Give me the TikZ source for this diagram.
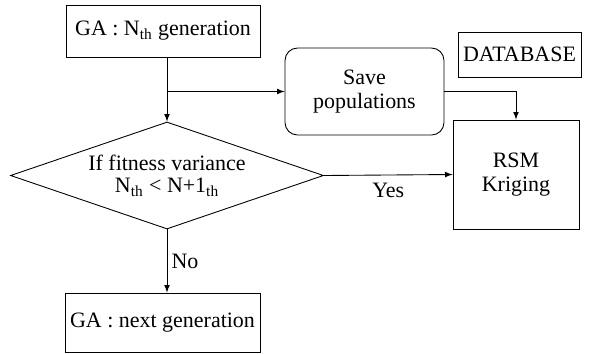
\documentclass[tikz,border=0pt]{standalone}
\usepackage{fontspec}
\setmainfont{Liberation Serif}
\usepackage{tikz}
\usetikzlibrary{shapes,arrows,positioning,fit}

\begin{document}
\begin{tikzpicture}
		\tikzstyle{Box}		= [rectangle, draw, line width=0.5pt, inner sep=0pt, align=center, font=\fontsize{12.5}{15}\selectfont]
		\tikzstyle{Round}	= [Box, rounded corners=2.5mm]
		\tikzstyle{Decision}	= [diamond, draw, line width=0.5pt, inner sep=0pt, align=center, font=\fontsize{12.5}{15}\selectfont]
		\tikzstyle{Flow}	= [line width=0.5pt, -latex]
		\tikzstyle{Tag}		= [font=\fontsize{12.5}{15}\selectfont]

		\useasboundingbox (0,0) rectangle (11.8,7.06);

		\node (ga) at (3.26, 6.44) [Box, minimum width=3.88cm, minimum height=1.04cm] {GA : N\textsubscript{th} generation};
		\node (save) at (7.29, 5.23) [Round, minimum width=3.18cm, minimum height=1.74cm] {Save\\[-1pt]populations};
		\node (db) at (10.39, 5.97) [Box, minimum width=2.46cm, minimum height=0.9cm] {DATABASE};
		\node (rsm) at (10.32, 3.57) [Box, minimum width=2.52cm, minimum height=2.18cm] {RSM\\[-1pt]Kriging};
		\node (dia) at (3.34, 3.55) [Decision, aspect=2.93, minimum width=6.26cm, minimum height=2.14cm] {If fitness variance\\[-2pt]N\textsubscript{th} < N+1\textsubscript{th}};
		\node (next) at (3.25, 0.61) [Box, minimum width=3.9cm, minimum height=1.18cm] {GA : next generation};
		\coordinate (br) at (dia.north |- save.west);

		\draw [Flow] (dia.north |- ga.south) to (dia.north);
		\draw [Flow] (br) to (save.west);
		\draw [Flow] (save.east) -| (rsm.north);
		\draw [Flow] (dia.east) to node [Tag, below=1pt] {Yes} (rsm.west);
		\draw [Flow] (dia.south) to node [Tag, right=-1pt] {No} (dia.south |- next.north);
	\end{tikzpicture}
\end{document}
